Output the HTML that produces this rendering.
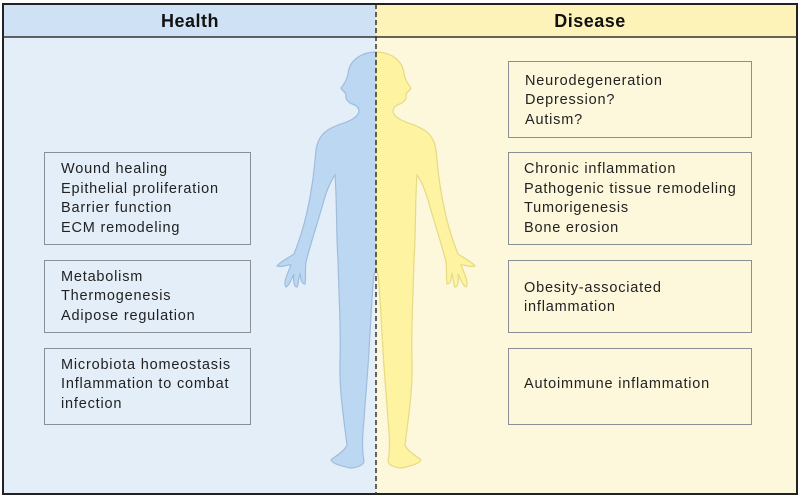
<!DOCTYPE html>
<html><head><meta charset="utf-8"><style>
html,body{margin:0;padding:0;background:#fff;}
svg{display:block;}
text{font-family:"Liberation Sans",Arial,sans-serif;font-size:14.5px;fill:#222;letter-spacing:0.8px;}
.h{font-size:18px;font-weight:bold;letter-spacing:0.5px;fill:#111;}
</style></head><body>
<svg width="800" height="498" viewBox="0 0 800 498" xmlns="http://www.w3.org/2000/svg">
<defs>
<path id="half" d="M376,52 C362,52 349,60 348,74 C347,80 344,84 341,88 C342,91 346,92 346,95 C345,99 348,102 352,104 C356,105 359,107 359,112 C357,118 350,121 338,125 C325,130 318,136 316,150 C314,172 312,190 307,212 C303,230 298,244 294,254 C288,258 280,262 277,266 C282,268 288,264 291,265 C287,275 283,283 286,287 C289,286 292,278 294,274 C293,281 294,287 297,287 C299,284 298,278 300,274 C301,281 302,284 305,284 C306,278 305,268 306,262 C310,245 318,222 324,200 C327,190 330,182 335,175 C337,200 336,230 338,260 C339,300 341,330 340,360 C339,390 344,420 347,445 C344,452 334,457 331,460 C334,465 343,466 350,468 C356,468 362,466 364,462 C362,450 362,440 364,420 C366,390 368,370 369,350 C371,320 372,290 374,275 L376,268 Z"/>
</defs>
<rect x="3" y="4" width="373" height="33" fill="#cfe2f5"/>
<rect x="3" y="37" width="373" height="457" fill="#e3eef8"/>
<rect x="376" y="4" width="421" height="33" fill="#fdf3b8"/>
<rect x="376" y="37" width="421" height="457" fill="#fdf7dc"/>
<use href="#half" fill="#bcd7f2" stroke="#9fbddb" stroke-width="1.2"/>
<g transform="translate(752,0) scale(-1,1)">
<use href="#half" fill="#fdf3a0" stroke="#e6da84" stroke-width="1.2"/>
</g>
<rect x="3" y="4" width="794" height="490" fill="none" stroke="#222" stroke-width="2"/>
<line x1="3" y1="37" x2="797" y2="37" stroke="#333" stroke-width="1.5"/>
<line x1="376" y1="4" x2="376" y2="494" stroke="#333" stroke-width="1.5" stroke-dasharray="5,3"/>
<text class="h" x="190" y="27" text-anchor="middle">Health</text>
<text class="h" x="590" y="27" text-anchor="middle">Disease</text>
<g fill="none" stroke="#8a8f95" stroke-width="1">
<rect x="44.5" y="152.5" width="206" height="92"/>
<rect x="44.5" y="260.5" width="206" height="72"/>
<rect x="44.5" y="348.5" width="206" height="76"/>
<rect x="508.5" y="61.5" width="243" height="76"/>
<rect x="508.5" y="152.5" width="243" height="92"/>
<rect x="508.5" y="260.5" width="243" height="72"/>
<rect x="508.5" y="348.5" width="243" height="76"/>
</g>
<text x="61" y="173">Wound healing</text>
<text x="61" y="193">Epithelial proliferation</text>
<text x="61" y="212">Barrier function</text>
<text x="61" y="232">ECM remodeling</text>
<text x="61" y="281">Metabolism</text>
<text x="61" y="300">Thermogenesis</text>
<text x="61" y="320">Adipose regulation</text>
<text x="61" y="369">Microbiota homeostasis</text>
<text x="61" y="388">Inflammation to combat</text>
<text x="61" y="408">infection</text>
<text x="525" y="85">Neurodegeneration</text>
<text x="525" y="104">Depression?</text>
<text x="525" y="124">Autism?</text>
<text x="524" y="173">Chronic inflammation</text>
<text x="524" y="193">Pathogenic tissue remodeling</text>
<text x="524" y="212">Tumorigenesis</text>
<text x="524" y="232">Bone erosion</text>
<text x="524" y="292">Obesity-associated</text>
<text x="524" y="311">inflammation</text>
<text x="524" y="388">Autoimmune inflammation</text>
</svg>
</body></html>
